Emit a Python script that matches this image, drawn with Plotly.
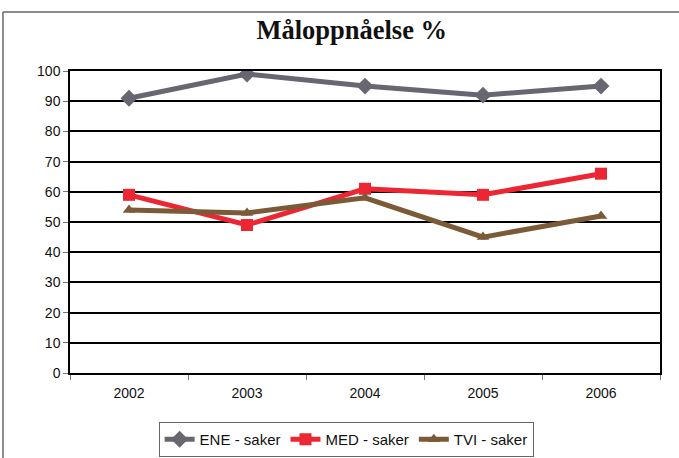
import plotly.graph_objects as go

years = ["2002", "2003", "2004", "2005", "2006"]
ene = [91, 99, 95, 92, 95]
med = [59, 49, 61, 59, 66]
tvi = [54, 53, 58, 45, 52]
y_ticks = [0, 10, 20, 30, 40, 50, 60, 70, 80, 90, 100]

fig = go.Figure()
fig.add_trace(go.Scatter(x=years, y=ene, name="ENE - saker", mode="lines+markers",
                         line=dict(color="#676671", width=5),
                         marker=dict(symbol="diamond", size=13, color="#676671")))
fig.add_trace(go.Scatter(x=years, y=med, name="MED - saker", mode="lines+markers",
                         line=dict(color="#ec2733", width=5),
                         marker=dict(symbol="square", size=12, color="#ec2733")))
fig.add_trace(go.Scatter(x=years, y=tvi, name="TVI - saker", mode="lines+markers",
                         line=dict(color="#7b5a37", width=5),
                         marker=dict(symbol="triangle-up", size=11, color="#7b5a37")))

fig.update_layout(
    width=679, height=458,
    margin=dict(l=70, r=19, t=71, b=85),
    paper_bgcolor="white", plot_bgcolor="white",
    title=dict(text="<b>Måloppnåelse %</b>", x=0.518, xanchor="center", y=0.935, yanchor="middle",
               font=dict(family="Liberation Serif, Times New Roman, serif", size=26.5, color="#111")),
    font=dict(family="Liberation Sans, Arial, sans-serif", size=14, color="#111"),
    showlegend=True,
    legend=dict(orientation="h", x=0.468, xanchor="center", xref="paper",
                y=(458 - 422) / 458, yanchor="top", yref="container",
                bordercolor="#666", borderwidth=1, font=dict(size=15),
                itemwidth=30, tracegroupgap=0),
    xaxis=dict(type="category", range=[-0.5, 4.5], showgrid=False, tickson="boundaries",
               ticks="outside", ticklen=5, tickcolor="#777", showline=True, linecolor="black",
               linewidth=1.5, mirror=True, ticklabelstandoff=6),
    yaxis=dict(range=[0, 100], tickvals=y_ticks, showgrid=True, gridcolor="black", gridwidth=1.5,
               ticks="outside", ticklen=5, tickcolor="#777", showline=True, linecolor="black",
               linewidth=1.5, mirror=True, zeroline=False),
)

fig.add_shape(type="line", xref="paper", yref="paper", x0=-0.1136, x1=-0.1136, y0=-0.3, y1=1.195,
              line=dict(color="#666", width=1.5))
fig.add_shape(type="line", xref="paper", yref="paper", x0=-0.1136, x1=1.1, y0=1.195, y1=1.195,
              line=dict(color="#666", width=1.5))

fig.write_html("out.html", config={"displayModeBar": False},
               post_script="document.body.style.margin='0';document.body.style.overflow='hidden';")
